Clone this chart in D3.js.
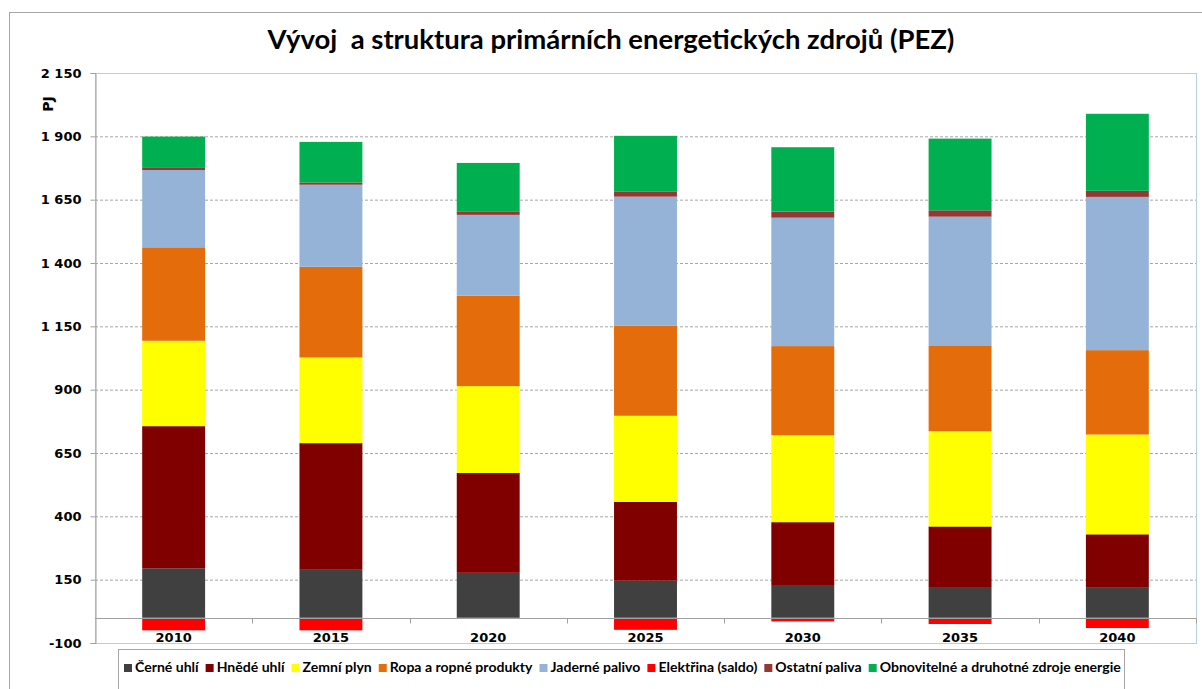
<!DOCTYPE html>
<html>
<head>
<meta charset="utf-8">
<script src="https://cdn.jsdelivr.net/npm/d3@7"></script>
<style>
  body { margin: 0; background: #fff; }
  svg { display: block; }
  .axis text { font-family: "DejaVu Sans", Verdana, sans-serif; font-weight: bold; font-size: 13px; fill: #000; }
</style>
</head>
<body>
<script>
var W = 1202, H = 689;
var marginLeft = 95, marginRight = 1196, marginTop = 73, marginBottom = 643;

// data (PJ)
var years = ["2010", "2015", "2020", "2025", "2030", "2035", "2040"];
var cerneUhli   = [195, 189, 177, 146, 129, 121, 118];
var hnedeUhli   = [561, 500, 394, 311, 248, 239, 211];
var zemniPlyn   = [337, 338, 343, 340, 343, 376, 394];
var ropa        = [369, 358, 357, 355, 352, 339, 333];
var jaderne     = [305, 324, 319, 510, 507, 508, 605];
var elektrina   = [-50, -50, -5, -48, -15, -25, -41];
var ostatni     = [11, 9, 14, 19, 24, 25, 24];
var oze         = [121, 160, 191, 221, 254, 283, 304];

var seriesNames = ["Černé uhlí", "Hnědé uhlí", "Zemní plyn", "Ropa a ropné produkty",
  "Jaderné palivo", "Elektřina (saldo)", "Ostatní paliva", "Obnovitelné a druhotné zdroje energie"];
var seriesValues = [cerneUhli, hnedeUhli, zemniPlyn, ropa, jaderne, elektrina, ostatni, oze];
var colors = ["#404040", "#800000", "#ffff00", "#e46c0a", "#95b3d7", "#ff0000", "#953735", "#00b050"];
var yTicks = [-100, 150, 400, 650, 900, 1150, 1400, 1650, 1900, 2150];

var table = years.map(function(y, i) {
  var row = { year: y };
  seriesNames.forEach(function(n, k) { row[n] = seriesValues[k][i]; });
  return row;
});

var svg = d3.select("body").append("svg")
  .attr("width", W)
  .attr("height", H);

// outer chart frame
svg.append("rect")
  .attr("x", 9.5).attr("y", 12.5)
  .attr("width", 1220).attr("height", 700)
  .attr("fill", "#fff")
  .attr("stroke", "#a6a6a6");

// title
var title = svg.append("text")
  .attr("x", 611)
  .attr("y", 49)
  .attr("text-anchor", "middle")
  .style("font-family", "Lato, 'Open Sans', sans-serif")
  .style("font-weight", "bold")
  .style("font-size", "24px")
  .style("white-space", "pre")
  .attr("xml:space", "preserve")
  .text("Vývoj  a struktura primárních energetických zdrojů (PEZ)");
var tw = title.node().getComputedTextLength();
title.style("font-size", (24 * 687 / tw) + "px");

var xScale = d3.scaleBand().domain(years).range([marginLeft, marginRight])
  .paddingInner(0.6).paddingOuter(0.3);
var yScale = d3.scaleLinear().domain([-100, 2150]).range([marginBottom, marginTop]);

// gridlines
svg.append("g")
  .selectAll("line")
  .data(yTicks.filter(function(t) { return t > -100 && t < 2150; }))
  .enter().append("line")
  .attr("x1", marginLeft).attr("x2", marginRight)
  .attr("y1", function(d) { return yScale(d) + 0.5; })
  .attr("y2", function(d) { return yScale(d) + 0.5; })
  .attr("stroke", "#a6a6a6")
  .attr("stroke-dasharray", "3,2");

// plot area border
svg.append("rect")
  .attr("x", marginLeft + 0.5).attr("y", marginTop + 0.5)
  .attr("width", marginRight - marginLeft).attr("height", marginBottom - marginTop)
  .attr("fill", "none")
  .attr("stroke", "#b9cde5");

// stacked bars
var stack = d3.stack().keys(seriesNames).offset(d3.stackOffsetDiverging);
var layers = stack(table);

svg.append("g")
  .selectAll("g")
  .data(layers)
  .enter().append("g")
  .attr("fill", function(d, i) { return colors[i]; })
  .selectAll("rect")
  .data(function(d) { return d; })
  .enter().append("rect")
  .attr("x", function(d) { return xScale(d.data.year); })
  .attr("width", xScale.bandwidth())
  .attr("y", function(d) { return yScale(Math.max(d[0], d[1])); })
  .attr("height", function(d) { return Math.abs(yScale(d[0]) - yScale(d[1])); });

// Y axis
var yAxis = d3.axisLeft(yScale)
  .tickValues(yTicks)
  .tickSize(5)
  .tickPadding(9)
  .tickFormat(function(d) { return d3.format(",")(d).replace(/,/g, " ").replace("\u2212", "-"); });
var gy = svg.append("g")
  .attr("class", "axis")
  .attr("transform", "translate(" + (marginLeft + 0.5) + ",0)")
  .call(yAxis);
gy.selectAll("path, line").attr("stroke", "#a0a0a0");

// X axis at zero
var zeroY = Math.round(yScale(0)) + 0.5;
var gx = svg.append("g").attr("class", "axis");
gx.append("line")
  .attr("x1", marginLeft).attr("x2", marginRight)
  .attr("y1", zeroY).attr("y2", zeroY)
  .attr("stroke", "#a0a0a0");
var step = xScale.step();
gx.selectAll(".tk")
  .data(years)
  .enter().append("line")
  .attr("class", "tk")
  .attr("x1", function(d) { return Math.round(xScale(d) + xScale.bandwidth() / 2 + step / 2) + 0.5; })
  .attr("x2", function(d) { return Math.round(xScale(d) + xScale.bandwidth() / 2 + step / 2) + 0.5; })
  .attr("y1", zeroY).attr("y2", zeroY + 5)
  .attr("stroke", "#a0a0a0");
gx.selectAll("text")
  .data(years)
  .enter().append("text")
  .attr("x", function(d) { return xScale(d) + xScale.bandwidth() / 2; })
  .attr("y", 642)
  .attr("text-anchor", "middle")
  .text(function(d) { return d; });

// unit label
svg.append("text")
  .attr("transform", "translate(53,104) rotate(-90)")
  .attr("text-anchor", "middle")
  .style("font-family", "'DejaVu Sans', sans-serif")
  .style("font-weight", "bold")
  .style("font-size", "14px")
  .text("PJ");

// legend
var legend = svg.append("g");
legend.append("rect")
  .attr("x", 118.5).attr("y", 649.5)
  .attr("width", 1006).attr("height", 50)
  .attr("fill", "#fff")
  .attr("stroke", "#a6a6a6");

var legFont = 13;
var items = legend.selectAll(".item")
  .data(seriesNames)
  .enter().append("g")
  .attr("class", "item");
items.append("rect")
  .attr("width", 8).attr("height", 8)
  .attr("y", 664)
  .attr("fill", function(d, i) { return colors[i]; });
var labels = items.append("text")
  .attr("y", 672)
  .style("font-family", "Lato, 'Open Sans', sans-serif")
  .style("font-weight", "bold")
  .style("font-size", legFont + "px")
  .text(function(d) { return d; });

function layoutLegend() {
  var x = 124;
  items.each(function(d, i) {
    var g = d3.select(this);
    g.select("rect").attr("x", x);
    g.select("text").attr("x", x + 11);
    x += 11 + g.select("text").node().getComputedTextLength() + 7;
  });
  return x - 7;
}
var endX = layoutLegend();
var fitted = legFont * (1120 - 135 - 8 * 18) / (endX - 135 - 8 * 18);
labels.style("font-size", fitted + "px");
layoutLegend();
</script>
</body>
</html>
